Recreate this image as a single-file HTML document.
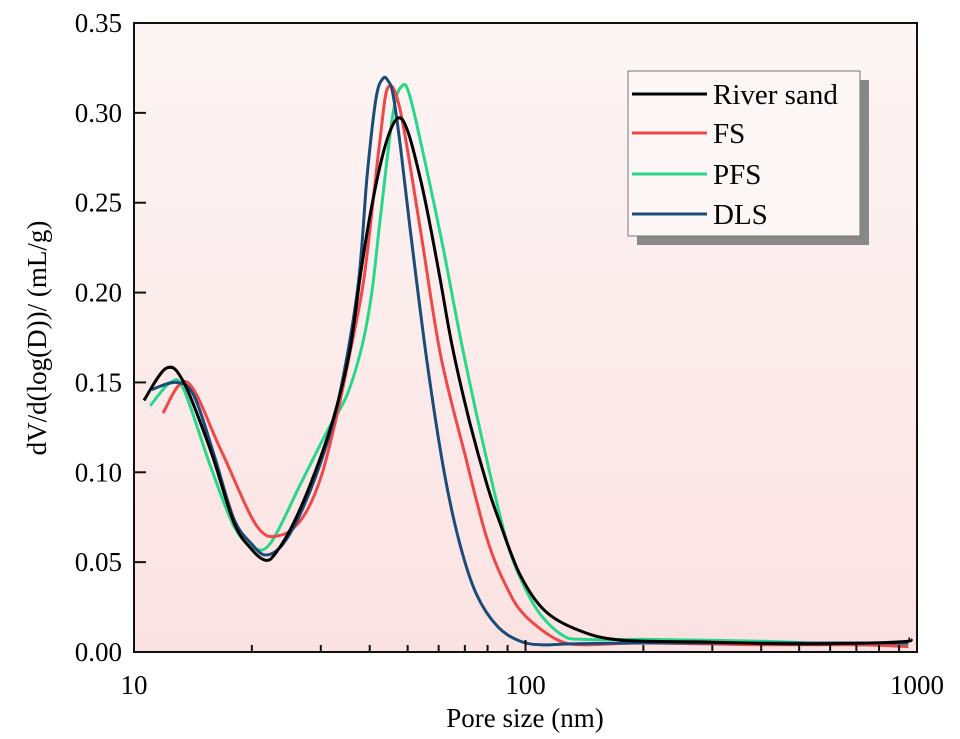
<!DOCTYPE html>
<html><head><meta charset="utf-8"><style>
html,body{margin:0;padding:0;background:#fff;}
svg{display:block;font-family:"Liberation Serif",serif;}
</style></head><body>
<svg id="chart" width="960" height="739" viewBox="0 0 960 739">
<defs><linearGradient id="bg" x1="0" y1="0" x2="0" y2="1"><stop offset="0" stop-color="#fdf5f5"/><stop offset="1" stop-color="#fbe2e2"/></linearGradient></defs>
<rect x="134" y="23" width="783" height="629" fill="url(#bg)"/>
<g id="marks"></g>
<g id="axes"></g>
<rect x="134" y="23" width="783" height="629" fill="none" stroke="#111" stroke-width="2"/>
<g>
<rect x="637" y="80" width="232" height="165" fill="#888"/>
<rect x="628" y="71" width="232" height="165" fill="#fdf6f6" stroke="#777" stroke-width="1"/>
<g><line x1="632" y1="94" x2="707" y2="94" stroke="#000" stroke-width="3"/><text x="713" y="104" font-size="29">River sand</text></g>
<g><line x1="632" y1="133" x2="707" y2="133" stroke="#f04848" stroke-width="3"/><text x="713" y="143" font-size="29">FS</text></g>
<g><line x1="632" y1="174" x2="707" y2="174" stroke="#28d88a" stroke-width="3"/><text x="713" y="184" font-size="29">PFS</text></g>
<g><line x1="632" y1="214" x2="707" y2="214" stroke="#1b4b78" stroke-width="3"/><text x="713" y="224" font-size="29">DLS</text></g>
</g>
<text x="525" y="727" font-size="27" text-anchor="middle">Pore size (nm)</text>
<text transform="translate(46,338) rotate(-90)" font-size="27" text-anchor="middle">dV/d(log(D))/ (mL/g)</text>
</svg>
<script>
const riverX=[10.6,12.1,13.4,15.7,18,20,21.7,23,25.6,29,32.4,35.6,38,40.8,44,47.2,50,53.8,57,60.6,65,72,80,86,96.8,112,137,174,279,503,905,960];
const riverY=[.140,.158,.150,.112,.072,.057,.051,.055,.072,.100,.131,.168,.212,.252,.283,.297,.290,.264,.238,.207,.170,.128,.092,.072,.043,.023,.012,.0067,.0056,.0045,.0056,.0075];
const fsX=[11.85,13.7,16.7,20.6,23.7,27,30,33,35.5,38.5,41,42.5,44.5,47.8,53.8,60.6,70,80,90,100,120,140,200,400,700,950];
const fsY=[.133,.150,.112,.070,.065,.075,.097,.132,.165,.205,.255,.285,.314,.302,.236,.166,.11,.062,.035,.02,.007,.004,.005,.004,.004,.003];
const pfsX=[11.0,12.4,13.4,15.7,18,20.2,22.4,26.7,31,35,38.2,40.5,42.5,45.9,48.4,50.7,56,61.6,69.2,80,90,100,110,125,140,200,400,700,950];
const pfsY=[.137,.150,.146,.103,.070,.058,.061,.094,.122,.143,.170,.200,.240,.300,.315,.309,.268,.225,.168,.105,.06,.035,.02,.009,.007,.007,.006,.004,.004];
const dlsX=[11.1,12.8,14.2,16,18,20,21.7,24,27,31,34,37.4,39.4,41.5,43.2,44.5,45.9,48,50.7,56,62,68,75,85,97,110,130,200,500,950];
const dlsY=[.146,.150,.143,.110,.074,.060,.054,.060,.080,.115,.150,.205,.265,.308,.319,.318,.310,.28,.236,.162,.10,.06,.032,.014,.006,.004,.0045,.005,.005,.005];
const yTicks=[0,0.05,0.10,0.15,0.20,0.25,0.30,0.35];
const yTickLabels=["0.00","0.05","0.10","0.15","0.20","0.25","0.30","0.35"];
const xMajor=[10,100,1000];
const xMajorLabels=["10","100","1000"];

const L=134,R=917,T=23,B=652;
function sx(v){return L+(Math.log10(v)-1)/2*(R-L);}
function sy(v){return B-v/0.35*(B-T);}
const NS="http://www.w3.org/2000/svg";
const marks=document.getElementById('marks'),axes=document.getElementById('axes');
function mk(tag,attrs,parent){const e=document.createElementNS(NS,tag);for(const k in attrs)e.setAttribute(k,attrs[k]);parent.appendChild(e);return e;}
function path(xs,ys,color,name){
  const P=xs.map((x,i)=>[sx(x),sy(ys[i])]);
  let d='M'+P[0][0].toFixed(1)+','+P[0][1].toFixed(1);
  for(let i=0;i<P.length-1;i++){
    const p0=P[Math.max(0,i-1)],p1=P[i],p2=P[i+1],p3=P[Math.min(P.length-1,i+2)];
    const c1=[p1[0]+(p2[0]-p0[0])/6,p1[1]+(p2[1]-p0[1])/6];
    const c2=[p2[0]-(p3[0]-p1[0])/6,p2[1]-(p3[1]-p1[1])/6];
    d+='C'+c1[0].toFixed(1)+','+c1[1].toFixed(1)+' '+c2[0].toFixed(1)+','+c2[1].toFixed(1)+' '+p2[0].toFixed(1)+','+p2[1].toFixed(1);
  }
  const p=mk('path',{d:d,fill:'none',stroke:color,'stroke-width':3,'stroke-linejoin':'round'},marks);
  
  
}
path(pfsX,pfsY,'#28d88a','series-pfs');
path(fsX,fsY,'#f04848','series-fs');
path(dlsX,dlsY,'#1b4b78','series-dls');
path(riverX,riverY,'#000','series-river-sand');
yTicks.forEach((v,i)=>{
  const y=sy(v);
  const t=mk('line',{x1:L,x2:L+12,y1:y,y2:y,stroke:'#111','stroke-width':2},axes);
  
  
  const tx=mk('text',{x:L-12,y:y+9,'font-size':27,'text-anchor':'end'},axes);
  tx.textContent=yTickLabels[i];
  
  
});
for(let dec=10;dec<1000;dec*=10){for(let m=1;m<10;m++){const v=dec*m;const x=sx(v);const major=m===1;
  const t=mk('line',{x1:x,x2:x,y1:B,y2:B-(major?12:7),stroke:'#111','stroke-width':2},axes);
  
  }}
xMajor.forEach((v,i)=>{
  const tx=mk('text',{x:sx(v),y:694,'font-size':27,'text-anchor':'middle'},axes);
  tx.textContent=xMajorLabels[i];
  
  
});
</script>
</body></html>
